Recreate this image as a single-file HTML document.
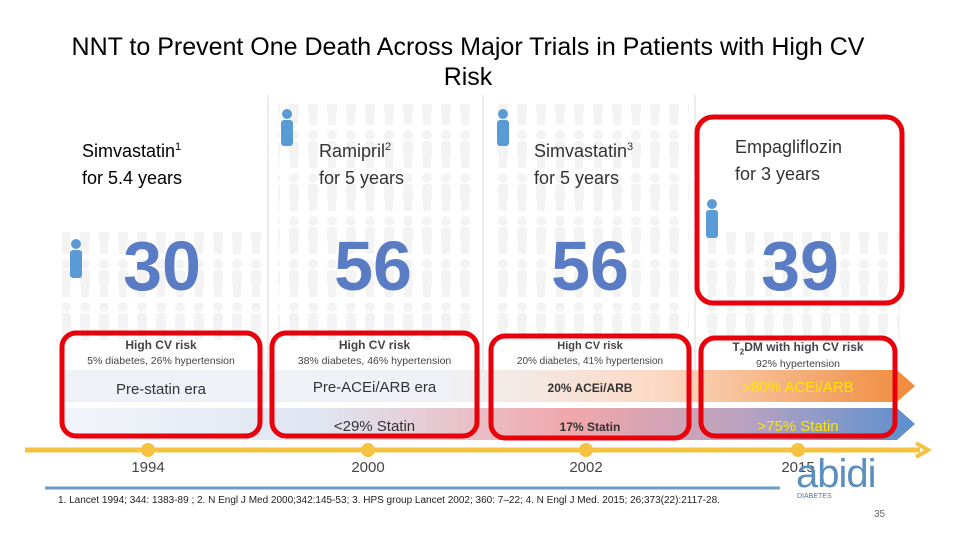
<!DOCTYPE html>
<html><head><meta charset="utf-8"><style>
body{margin:0;width:960px;height:540px;overflow:hidden;background:#fff;font-family:"Liberation Sans",sans-serif;position:relative}
.a{position:absolute}
.t{position:absolute;white-space:nowrap}
</style></head><body>
<svg class="a" style="left:0;top:0" width="960" height="540">
<defs>
<linearGradient id="g1" x1="0" x2="1"><stop offset="0" stop-color="#eef2f8"/><stop offset="0.45" stop-color="#f0f1f6"/><stop offset="0.7" stop-color="#fbd9c4"/><stop offset="1" stop-color="#ef8a3a"/></linearGradient>
<linearGradient id="g2" x1="0" x2="1"><stop offset="0" stop-color="#f2f5fa"/><stop offset="0.3" stop-color="#dfe6f2"/><stop offset="0.6" stop-color="#f0a6aa"/><stop offset="0.8" stop-color="#b9a2c0"/><stop offset="1" stop-color="#5b8fcf"/></linearGradient>
<pattern id="ppl" x="0" y="0" width="19" height="43" patternUnits="userSpaceOnUse">
<circle cx="9" cy="6" r="5" fill="#f3f3f3"/><rect x="4" y="12" width="10" height="17" rx="3" fill="#f3f3f3"/><rect x="5" y="27" width="8" height="12" fill="#f3f3f3"/>
</pattern>
</defs>
<rect x="278" y="104" width="192" height="236" fill="url(#ppl)"/>
<rect x="494" y="104" width="195" height="236" fill="url(#ppl)"/>
<rect x="62" y="232" width="200" height="108" fill="url(#ppl)"/>
<rect x="705" y="232" width="195" height="108" fill="url(#ppl)"/>
<line x1="268" y1="95" x2="268" y2="380" stroke="#d8d8d8"/>
<line x1="483" y1="95" x2="483" y2="380" stroke="#d8d8d8"/>
<line x1="695" y1="95" x2="695" y2="380" stroke="#d8d8d8"/>
<path d="M62 370 H897 L915 386 L897 402 H62 Z" fill="url(#g1)"/>
<path d="M62 408 H897 L915 424 L897 440 H62 Z" fill="url(#g2)"/>
<line x1="25" y1="450" x2="920" y2="450" stroke="#f5c242" stroke-width="5"/>
<path d="M916 443 L928 450 L916 457" fill="none" stroke="#f5c242" stroke-width="4"/>
<line x1="45" y1="488" x2="780" y2="488" stroke="#6f9bc8" stroke-width="3"/>
<g id="dots"></g>
<g fill="none" stroke="#e8000b" stroke-width="5">
<rect x="62" y="333" width="198" height="103" rx="14"/>
<rect x="272" y="333" width="205" height="103" rx="14"/>
<rect x="491" y="336" width="198" height="102" rx="14"/>
<rect x="701" y="338" width="194" height="98" rx="14"/>
<rect x="697" y="117" width="205" height="186" rx="16"/>
</g>
<g fill="#5b9bd5">
<circle cx="287" cy="114" r="5"/><rect x="281" y="120" width="12" height="26" rx="3"/>
<circle cx="503" cy="114" r="5"/><rect x="497" y="120" width="12" height="26" rx="3"/>
<circle cx="76" cy="244" r="5"/><rect x="70" y="250" width="12" height="28" rx="3"/>
<circle cx="712" cy="204" r="5"/><rect x="706" y="210" width="12" height="28" rx="3"/>
</g>
</svg>
<div class="t" style="left:0;width:936px;top:32px;text-align:center;font-size:25px;line-height:30px">NNT to Prevent One Death Across Major Trials in Patients with High CV<br>Risk</div>
<div class="t" style="left:82px;top:134px;font-size:18px;line-height:27px">Simvastatin<sup style="font-size:11px">1</sup><br>for 5.4 years</div>
<div class="t" style="left:319px;top:134px;font-size:18px;line-height:27px;color:#333">Ramipril<sup style="font-size:11px">2</sup><br>for 5 years</div>
<div class="t" style="left:534px;top:134px;font-size:18px;line-height:27px;color:#333">Simvastatin<sup style="font-size:11px">3</sup><br>for 5 years</div>
<div class="t" style="left:735px;top:134px;font-size:18px;line-height:27px;color:#333">Empagliflozin<br>for 3 years</div>
<div id="nums"></div>
<div class="t" style="left:62px;width:198px;text-align:center;top:338px;font-size:12px;font-weight:bold;color:#444">High CV risk<div style="font-size:10.5px;font-weight:normal;margin-top:3px">5% diabetes, 26% hypertension</div></div>
<div class="t" style="left:272px;width:205px;text-align:center;top:338px;font-size:12px;font-weight:bold;color:#444">High CV risk<div style="font-size:10.5px;font-weight:normal;margin-top:3px">38% diabetes, 46% hypertension</div></div>
<div class="t" style="left:491px;width:198px;text-align:center;top:340px;font-size:11px;font-weight:bold;color:#444">High CV risk<div style="font-size:10px;font-weight:normal;margin-top:4px">20% diabetes, 41% hypertension</div></div>
<div class="t" style="left:701px;width:194px;text-align:center;top:340px;font-size:12px;font-weight:bold;color:#444">T<sub style="font-size:8px">2</sub>DM with high CV risk<div style="font-size:10.5px;font-weight:normal;margin-top:2px">92% hypertension</div></div>
<div class="t" style="left:62px;width:198px;text-align:center;top:381px;font-size:15px;color:#333">Pre-statin era</div>
<div class="t" style="left:272px;width:205px;text-align:center;top:379px;font-size:15px;color:#333">Pre-ACEi/ARB era</div>
<div class="t" style="left:491px;width:198px;text-align:center;top:381px;font-size:12px;font-weight:bold;color:#333">20% ACEi/ARB</div>
<div class="t" style="left:701px;width:194px;text-align:center;top:379px;font-size:15px;color:#ffe500">&gt;80% ACEi/ARB</div>
<div class="t" style="left:272px;width:205px;text-align:center;top:418px;font-size:15px;color:#333">&lt;29% Statin</div>
<div class="t" style="left:491px;width:198px;text-align:center;top:420px;font-size:12px;font-weight:bold;color:#333">17% Statin</div>
<div class="t" style="left:701px;width:194px;text-align:center;top:418px;font-size:15px;color:#ffe500">&gt;75% Statin</div>
<div id="years"></div>
<div class="t" style="left:58px;top:495px;font-size:10px;color:#222">1. Lancet 1994; 344: 1383-89 ; 2. N Engl J Med 2000;342:145-53; 3. HPS group Lancet 2002; 360: 7–22; 4. N Engl J Med. 2015; 26;373(22):2117-28.</div>
<div class="t" style="left:796px;top:452px;font-size:40px;color:#5b8fbf;letter-spacing:-1px">abidi</div>
<div class="t" style="left:797px;top:493px;font-size:7px;color:#5b6f9a">DIABETES</div>
<div class="t" style="left:874px;top:509px;font-size:10px;color:#666">35</div>
<script>
const trials=["Simvastatin 1994","Ramipril 2000","Simvastatin 2002","Empagliflozin 2015"];
const nntValues=[30,56,56,39];
const yearLabels=["1994","2000","2002","2015"];
const colCenters=[162,373,590,800];
const nums=document.getElementById('nums');
nntValues.forEach((v,i)=>{
 const d=document.createElement('div');
 d.className='t';
 
 
 d.style.cssText=`left:${colCenters[i]-100}px;width:200px;text-align:center;top:226px;font-size:70px;font-weight:bold;color:#5a7cc4`;
 d.textContent=v;nums.appendChild(d);
});
const yr=document.getElementById('years'),dots=document.getElementById('dots');
const dotX=[148,368,586,798];
yearLabels.forEach((y,i)=>{
 const d=document.createElement('div');
 d.className='t';
 
 
 d.style.cssText=`left:${dotX[i]-40}px;width:80px;text-align:center;top:459px;font-size:15px;color:#444`;
 d.textContent=y;yr.appendChild(d);
 const c=document.createElementNS('http://www.w3.org/2000/svg','circle');
 
 
 c.setAttribute('cx',dotX[i]);c.setAttribute('cy',450);c.setAttribute('r',7);c.setAttribute('fill','#f5c242');
 dots.appendChild(c);
});
</script>
</body></html>
